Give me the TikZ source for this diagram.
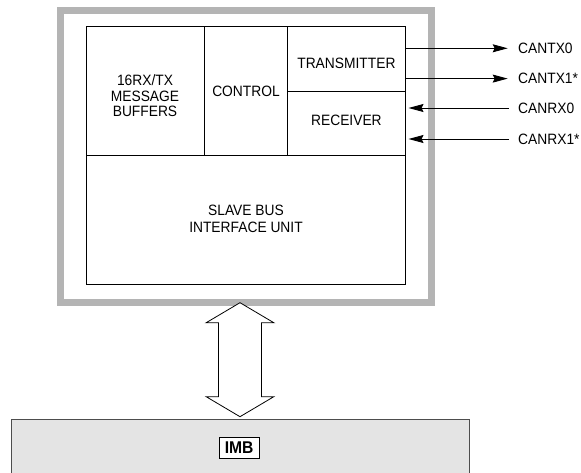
\documentclass[tikz,border=0pt]{standalone}
\usepackage{fontspec}
\setmainfont{Liberation Sans}[FakeStretch=0.92]
\usetikzlibrary{arrows.meta}
\definecolor{framegray}{HTML}{B4B4B4}
\definecolor{imbfill}{HTML}{E4E4E4}
\definecolor{imbedge}{HTML}{4D4D4D}
\begin{document}
\begin{tikzpicture}[x=1pt,y=-1pt,
  lbl/.style={font=\fontsize{15}{15.5}\selectfont, inner sep=0pt, align=center},
  cell/.style={draw=black, line width=0.9pt},
  sig/.style={line width=0.9pt, -{Stealth[length=15pt,width=8pt,inset=2pt]}},
  busarrow/.style={draw=black, fill=white, line width=0.8pt},
]
\useasboundingbox (0,0) rectangle (581,473);
% IMB bus block
\node[draw=imbedge, fill=imbfill, line width=1.2pt, minimum width=457.8pt,
      minimum height=80pt, anchor=north west, inner sep=0pt] (imb) at (10.7,418.5) {};
\node[draw=black, fill=white, line width=0.9pt, minimum width=39.7pt, minimum height=21pt,
      inner sep=0pt, font=\fontsize{17}{17}\selectfont\bfseries] (imblbl) at (239.2,447.8) {IMB};
% gray module frame
\draw[framegray, line width=7pt] (60.8,10.7) rectangle (431,302);
% inner blocks
\draw[cell] (86.3,26.7) rectangle (405.3,284.7);
\draw[cell] (86.3,155.7) -- (405.3,155.7);
\draw[cell] (204.3,26.7) -- (204.3,155.7);
\draw[cell] (287.7,26.7) -- (287.7,155.7);
\draw[cell] (287.7,91.7) -- (405.3,91.7);
% block labels
\node[lbl] (buf) at (145,96) {16RX/TX\\MESSAGE\\BUFFERS};
\node[lbl] (ctl) at (246,91.7) {CONTROL};
\node[lbl] (tx) at (346.4,63.8) {TRANSMITTER};
\node[lbl] (rx) at (346.4,120.5) {RECEIVER};
\node[lbl, font=\fontsize{15}{16.7}\selectfont] (sbiu) at (246,218.7) {SLAVE BUS\\INTERFACE UNIT};
% pins
\node[lbl, anchor=west] (cantx0) at (518,48.3) {CANTX0};
\node[lbl, anchor=west] (cantx1) at (518,78.6) {CANTX1*};
\node[lbl, anchor=west] (canrx0) at (518,108) {CANRX0};
\node[lbl, anchor=west] (canrx1) at (518,139) {CANRX1*};
\coordinate (t0) at (406.2,48.3);
\coordinate (t1) at (406.2,78.6);
\coordinate (r0) at (408.5,108);
\coordinate (r1) at (408.5,139);
\draw[sig] (t0) -- ([xshift=-10.3pt]cantx0.west);
\draw[sig] (t1) -- ([xshift=-10.3pt]cantx1.west);
\draw[sig] ([xshift=-9pt]canrx0.west) -- (r0);
\draw[sig] ([xshift=-9pt]canrx1.west) -- (r1);
% bidirectional bus arrow
\coordinate (uptip) at (240,302.7);
\coordinate (dntip) at (240,416.7);
\draw[busarrow] (uptip) -- ++(33.8,20) -- ++(-12.3,0) -- ++(0,74) -- ++(12.3,0)
  -- (dntip) -- ++(-33.8,-20) -- ++(12.3,0) -- ++(0,-74) -- ++(-12.3,0) -- cycle;
\end{tikzpicture}
\end{document}
